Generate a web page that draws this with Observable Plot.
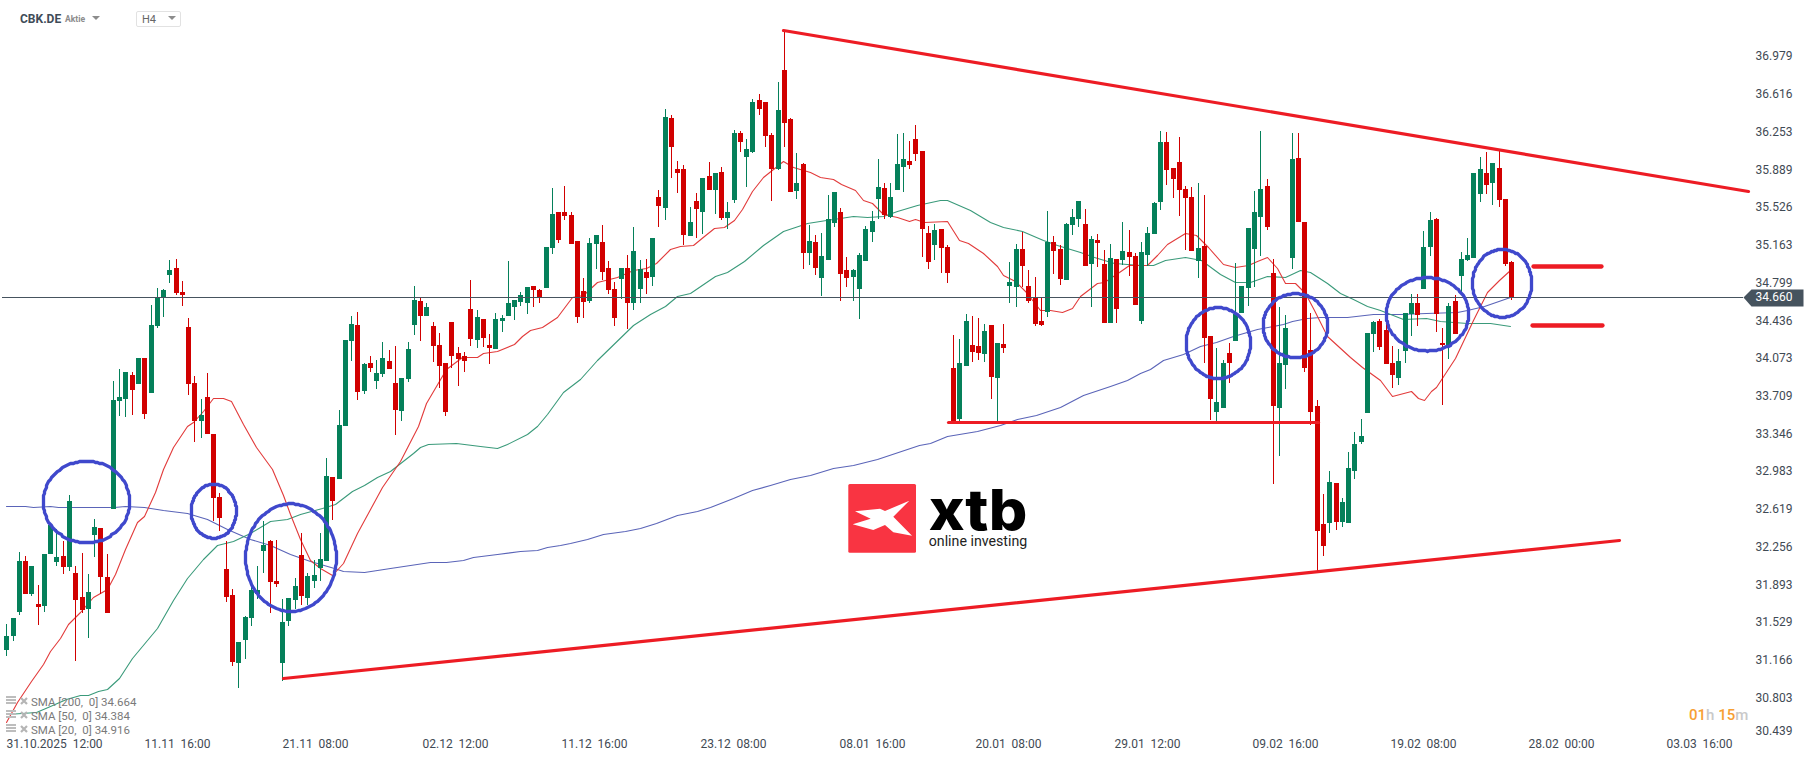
<!DOCTYPE html>
<html><head><meta charset="utf-8">
<script src="https://cdn.jsdelivr.net/npm/d3@7"></script>
<script src="https://cdn.jsdelivr.net/npm/@observablehq/plot@0.6"></script>
<style>
html,body{margin:0;padding:0;background:#fff;width:1815px;height:761px;overflow:hidden}
#wrap{position:relative;width:1815px;height:761px;font-family:Roboto,sans-serif}
#wrap>svg{position:absolute;left:0;top:0}
.o{position:absolute;white-space:pre}
#wrap>svg.o{left:auto;top:auto}
.leg{left:31px;font-size:11.5px;color:#7a7a7a;line-height:14px}
.ic{left:6px;width:10px;height:2px;background:#bdbdbd;box-shadow:0 3px 0 #bdbdbd,0 6px 0 #bdbdbd}
</style></head><body><div id="wrap"></div>
<script>
const open=[
31.24,31.37,31.61,32.10,31.78,31.69,31.67,32.17,32.09,32.15,
32.04,31.99,31.75,31.64,32.35,32.42,31.95,32.61,33.65,33.67,
33.91,33.82,34.07,33.73,34.38,34.66,34.88,34.94,34.71,34.37,
33.83,33.46,33.69,33.33,32.72,32.02,31.77,31.11,31.34,31.55,
31.78,32.20,32.30,31.91,31.11,31.52,31.72,32.16,31.74,31.91,
32.03,32.10,32.92,32.90,33.41,34.24,34.39,33.75,34.02,33.85,
33.92,34.04,33.83,33.56,33.87,34.39,34.62,34.48,34.38,34.20,
34.02,34.42,34.12,34.09,34.55,34.25,34.45,34.20,34.16,34.43,
34.48,34.57,34.61,34.60,34.77,34.73,34.75,35.14,35.49,35.49,
35.46,35.21,34.72,34.62,35.18,35.20,34.94,34.74,34.84,34.94,
34.60,34.74,34.91,34.86,35.63,35.53,36.40,35.90,35.90,35.25,
35.59,35.49,35.84,35.70,35.88,35.43,35.60,36.25,36.02,36.07,
36.57,36.55,36.23,35.90,36.86,36.39,35.69,35.95,35.09,35.20,
34.85,35.02,35.38,35.49,34.92,34.86,34.74,35.01,35.29,35.61,
35.72,35.44,35.70,35.92,35.98,36.20,36.08,35.28,35.17,35.32,
35.15,33.97,33.48,33.99,34.20,34.19,34.11,34.39,33.88,34.21,
34.77,34.76,35.13,34.77,34.66,34.43,34.52,35.20,35.13,34.83,
35.36,35.42,35.37,34.98,35.22,34.98,34.41,35.03,35.02,35.10,
35.06,34.43,35.07,35.27,35.58,36.17,35.91,35.97,35.71,35.63,
35.01,35.16,34.28,33.55,33.59,34.12,34.24,34.51,34.75,35.13,
35.44,35.74,34.90,33.59,34.00,35.04,36.01,35.39,34.15,33.61,
32.46,32.47,32.86,32.48,32.47,32.98,33.26,33.54,34.30,34.43,
34.34,34.02,33.88,34.14,34.50,34.60,34.74,35.15,35.42,34.22,
34.20,34.62,34.87,35.02,35.04,35.66,35.87,35.77,35.91,35.61,35.00];
const close=[
31.37,31.55,32.10,31.78,32.05,31.66,32.17,32.45,32.14,32.04,
32.68,31.72,31.63,31.80,32.43,31.95,31.60,33.66,33.69,33.94,
33.76,34.07,33.53,34.39,34.66,34.73,34.92,34.70,34.68,33.82,
33.46,33.52,33.33,32.71,32.52,31.75,31.12,31.32,31.56,31.82,
31.82,32.26,31.90,31.88,31.51,31.74,31.86,31.76,31.96,31.97,
32.12,32.93,32.68,33.42,34.25,34.40,33.74,34.01,33.97,33.93,
34.07,33.96,33.57,33.88,34.16,34.63,34.48,34.57,34.19,33.99,
33.55,34.09,34.06,34.04,34.26,34.47,34.27,34.17,34.45,34.46,
34.60,34.63,34.68,34.76,34.73,34.66,35.15,35.47,35.22,35.45,
35.18,34.47,34.61,35.19,35.26,34.91,34.73,34.46,34.94,34.60,
35.11,34.93,34.85,35.24,35.55,36.41,36.12,35.87,35.26,35.39,
35.52,35.82,35.70,35.87,35.43,35.49,36.25,36.17,36.10,36.55,
36.49,36.22,35.90,36.48,36.35,35.68,35.77,35.09,35.21,34.94,
35.06,35.42,35.68,34.89,34.85,34.92,35.07,35.32,35.40,35.73,
35.46,35.63,35.95,36.00,35.94,36.05,35.32,35.00,35.31,35.14,
34.90,33.46,34.02,34.43,34.13,34.12,34.33,33.89,34.22,34.17,
34.81,35.13,34.96,34.62,34.40,34.39,35.20,35.11,34.84,35.37,
35.44,35.59,34.96,35.23,35.19,34.41,35.04,34.55,35.11,35.05,
34.59,35.10,35.28,35.57,36.17,35.89,35.81,35.70,35.62,35.11,
35.14,34.27,33.67,33.64,34.02,34.02,34.50,34.77,35.33,35.49,
35.71,35.34,33.61,34.02,34.36,36.00,35.39,33.97,33.55,32.39,
32.25,32.87,32.48,32.67,33.00,33.24,33.31,34.31,34.42,34.18,
34.01,33.91,34.04,34.51,34.60,34.49,35.15,35.41,34.50,34.20,
34.58,34.30,35.03,35.07,35.87,35.90,35.75,35.96,35.60,34.98,34.66];
const high=[
31.49,31.55,32.19,32.15,32.05,31.87,32.17,32.45,32.41,32.30,
32.74,32.05,32.18,31.98,32.51,32.42,32.17,33.85,33.96,33.94,
33.94,34.07,34.07,34.59,34.75,34.74,35.02,35.03,34.82,34.46,
33.90,33.67,33.93,33.33,32.76,32.30,31.83,31.32,31.57,31.86,
32.05,32.49,32.31,32.31,31.73,31.74,31.94,32.37,31.99,32.11,
32.37,33.10,32.92,33.57,34.25,34.48,34.52,34.02,34.09,34.05,
34.23,34.15,34.19,33.88,34.23,34.77,34.65,34.60,34.42,34.31,
34.02,34.42,34.18,34.13,34.83,34.54,34.45,34.30,34.51,34.49,
35.01,34.63,34.71,34.76,34.77,34.74,35.15,35.72,35.49,35.74,
35.49,35.21,34.85,35.24,35.26,35.36,35.01,34.81,34.94,35.07,
35.34,35.02,35.03,35.24,35.70,36.49,36.43,35.98,35.94,35.54,
35.67,35.82,35.97,35.87,35.92,35.58,36.28,36.27,36.20,36.58,
36.63,36.55,36.25,36.75,37.25,36.40,36.06,35.96,35.36,35.26,
35.28,35.65,35.68,35.53,35.05,34.93,35.09,35.35,35.50,36.00,
35.77,35.77,36.24,36.25,36.18,36.33,36.08,35.35,35.37,35.32,
35.17,34.29,34.26,34.50,34.48,34.46,34.40,34.39,34.22,34.40,
35.00,35.18,35.29,34.92,34.86,34.65,35.50,35.25,35.17,35.38,
35.52,35.59,35.52,35.25,35.27,35.12,35.18,35.03,35.39,35.31,
35.09,35.20,35.34,35.58,36.27,36.26,35.91,36.21,35.74,35.73,
35.77,35.65,34.28,34.17,34.05,34.22,34.99,34.77,35.33,35.69,
36.27,35.81,35.03,34.57,34.49,36.25,36.25,35.39,34.51,33.66,
32.75,32.98,32.86,32.71,33.16,33.35,33.48,34.31,34.43,34.45,
34.45,34.19,34.16,34.51,34.69,34.69,35.30,35.49,35.43,34.36,
34.60,34.68,35.10,35.24,35.87,36.02,36.07,35.96,36.09,35.61,35.01];
const low=[
31.18,31.33,31.58,31.78,31.76,31.48,31.61,32.17,32.05,31.98,
32.01,31.13,31.60,31.36,32.14,31.78,31.60,32.61,33.51,33.50,
33.52,33.82,33.48,33.73,34.36,34.47,34.80,34.68,34.58,33.71,
33.26,33.30,33.33,32.49,32.39,31.70,31.08,30.87,31.15,31.47,
31.73,31.99,31.60,31.85,30.94,31.47,31.64,31.68,31.68,31.84,
31.91,32.10,32.50,32.90,33.41,34.04,33.66,33.72,33.94,33.77,
33.89,33.96,33.32,33.46,33.84,34.29,34.24,34.48,34.03,33.78,
33.51,33.97,33.80,33.94,34.19,34.17,34.18,34.01,34.16,34.32,
34.48,34.44,34.58,34.50,34.57,34.60,34.75,35.08,35.19,35.41,
35.18,34.41,34.46,34.60,34.93,34.83,34.69,34.38,34.64,34.35,
34.54,34.60,34.69,34.77,35.34,35.41,35.82,35.67,35.17,35.25,
35.24,35.27,35.70,35.47,35.41,35.32,35.57,36.07,35.73,36.06,
36.43,36.12,35.59,35.89,36.12,35.68,35.61,34.93,34.97,34.88,
34.67,35.02,35.34,34.62,34.76,34.62,34.45,35.01,35.20,35.42,
35.42,35.43,35.70,35.68,35.90,35.98,35.05,34.93,35.02,34.90,
34.80,33.45,33.45,33.99,34.03,34.05,34.03,33.67,33.45,34.12,
34.60,34.57,34.76,34.60,34.38,34.38,34.47,34.89,34.78,34.83,
35.26,35.34,34.96,34.57,34.95,34.41,34.41,34.41,34.97,34.87,
34.59,34.40,34.96,35.27,35.51,35.75,35.62,35.45,35.12,35.11,
34.85,34.02,33.47,33.45,33.59,33.83,34.24,34.51,34.58,34.76,
35.06,35.31,32.85,33.12,33.77,34.93,35.39,33.94,33.42,32.00,
32.15,32.37,32.40,32.43,32.47,32.90,33.24,33.54,34.13,34.15,
34.01,33.78,33.81,34.02,34.28,34.38,34.74,35.06,34.32,33.62,
34.06,34.30,34.70,35.01,35.04,35.58,35.66,35.56,35.54,34.96,34.63];

// moving averages as [candle index, price]
const sma20=[[0,30.54],[1.65,30.73],[4,30.94],[5.9,31.10],[7,31.23],[8.6,31.36],[9.9,31.49],[11.8,31.61],[13.9,31.75],[16,31.83],[17.3,31.98],[18.9,32.22],[20.8,32.48],[21.9,32.54],[23.7,32.77],[25,32.99],[26.6,33.21],[28.8,33.41],[29.8,33.45],[31.4,33.56],[33,33.68],[34.6,33.68],[35.9,33.65],[37.8,33.43],[39.9,33.21],[42.3,32.99],[44.2,32.74],[45.2,32.56],[46.8,32.32],[48.4,32.11],[50,32.03],[51.9,31.97],[53.7,32.08],[55.9,32.37],[59.9,32.82],[62.8,33.07],[65.7,33.41],[67,33.63],[70.2,33.96],[72.6,34.08],[75,34.08],[76.1,34.12],[78.2,34.14],[80.9,34.21],[82.2,34.28],[83.5,34.34],[85.4,34.37],[87.8,34.47],[90.2,34.66],[92,34.68],[94.2,34.81],[97.4,34.86],[100,34.92],[102.1,34.94],[103.7,34.99],[105.8,35.13],[107.4,35.16],[109.6,35.17],[111.2,35.25],[112.8,35.33],[114.4,35.34],[116,35.41],[117.3,35.52],[118.9,35.69],[120.7,35.83],[123.9,35.98],[125.5,35.92],[128.2,35.88],[129.8,35.83],[131.9,35.81],[133.2,35.76],[135.4,35.70],[136.7,35.60],[138,35.57],[139.9,35.47],[142,35.44],[143.9,35.40],[145,35.42],[146.3,35.39],[150,35.40],[152,35.22],[153.4,35.19],[155.8,35.09],[158,34.96],[159,34.88],[160.9,34.82],[162.7,34.71],[164.9,34.54],[166.5,34.54],[168.3,34.52],[169.9,34.56],[171.2,34.67],[173.9,34.80],[175,34.81],[177.4,34.91],[179,34.97],[181.9,34.97],[183.5,35.07],[185.1,35.18],[188,35.28],[189.8,35.26],[191.7,35.15],[194.1,34.98],[196,34.95],[198.1,34.97],[199.4,35.01],[201,35.05],[202.6,34.94],[203.9,34.80],[205.5,34.80],[207.1,34.70],[208.5,34.54],[210.6,34.28],[214.3,34.08],[216.2,33.98],[219.1,33.86],[221,33.70],[224,33.75],[225.2,33.68],[226.1,33.66],[227.3,33.75],[228.1,33.79],[231.1,34.07],[234,34.44],[236.1,34.71],[238,34.83],[239.8,34.92]];
const sma50=[[0.1,30.62],[4.8,30.64],[7,30.70],[9.6,30.76],[11.8,30.80],[13.1,30.80],[14.7,30.84],[16,30.86],[17.9,30.97],[20,31.16],[24,31.45],[26.6,31.72],[28.8,31.94],[31.4,32.12],[33.6,32.26],[36.2,32.30],[38.9,32.37],[42.1,32.49],[44.7,32.51],[46.8,32.56],[50.3,32.62],[52.4,32.66],[55.1,32.78],[57,32.84],[59.1,32.92],[61.2,32.98],[64.9,33.15],[66,33.21],[67.3,33.24],[71.8,33.25],[75.5,33.22],[78.2,33.20],[79.8,33.24],[83,33.33],[84.6,33.41],[86.2,33.53],[88.8,33.74],[91.5,33.87],[94.2,34.05],[100,34.39],[102.7,34.50],[105,34.58],[106.9,34.67],[109,34.70],[113,34.87],[114.9,34.91],[117.6,35.01],[120.7,35.17],[123.9,35.30],[127.7,35.38],[130.8,35.41],[133,35.43],[135.1,35.45],[137.2,35.44],[139.9,35.45],[142,35.50],[145.2,35.56],[148.9,35.60],[150,35.60],[153.7,35.51],[156.9,35.39],[159,35.34],[162,35.30],[165.4,35.22],[167.5,35.17],[171.2,35.10],[173.4,35.05],[176.6,34.99],[180.8,34.97],[182.9,34.97],[184.8,35.02],[188,35.05],[190.6,35.02],[193.6,34.89],[196,34.81],[198.4,34.81],[201,34.87],[203.9,34.86],[206.3,34.92],[207.9,34.91],[210.6,34.80],[212.7,34.70],[214.8,34.64],[217,34.58],[219.1,34.54],[222.8,34.45],[226.5,34.46],[228.7,34.43],[232.9,34.41],[236.6,34.41],[239.9,34.38]];
const sma200=[[0,32.64],[3,32.64],[4.3,32.63],[7,32.64],[8.3,32.63],[17.1,32.63],[18.9,32.64],[21.9,32.63],[25,32.60],[28.8,32.57],[32,32.51],[35.2,32.41],[38.9,32.32],[42.1,32.26],[45.2,32.17],[48.4,32.10],[52.2,32.03],[53.7,32.01],[57,32.00],[61.2,32.03],[67.6,32.09],[70.2,32.09],[72.9,32.11],[74.5,32.14],[78.2,32.17],[81.9,32.20],[84.6,32.21],[86.2,32.24],[88.3,32.26],[89.9,32.28],[92.6,32.32],[95.2,32.36],[98.7,32.39],[101.1,32.42],[103.7,32.47],[106.9,32.55],[110.1,32.59],[112.2,32.63],[115.9,32.71],[118.9,32.79],[121.8,32.84],[125,32.90],[128.2,32.94],[131.9,33.00],[135.1,33.03],[138.8,33.09],[144.1,33.20],[145.5,33.23],[147.3,33.25],[150,33.31],[154.8,33.36],[158.5,33.42],[161.2,33.48],[164.3,33.52],[168.1,33.60],[171.8,33.71],[176,33.80],[178.7,33.86],[180.8,33.93],[182.4,33.96],[184.5,34.05],[187.7,34.11],[190.4,34.19],[193,34.23],[195.7,34.28],[199.4,34.35],[203.7,34.40],[205,34.43],[207.4,34.46],[209.5,34.47],[213.8,34.47],[218,34.50],[222.3,34.50],[226.5,34.51],[231.3,34.52],[232.9,34.54],[235.6,34.58],[239.9,34.66]];

// hand-drawn annotations, in candle index and price
const trendLines=[[[123.8,37.25],[277.8,35.69]],[[44.1,30.97],[257.2,32.31]],[[150.2,33.45],[209.2,33.45]]];
const levelLines=[[[243.5,34.96],[254.3,34.96]],[[243.3,34.39],[254.5,34.39]]];
const circleIndex=[12.71,33.01,45.33,193.22,205.53,226.59,238.5];
const circlePrice=[32.68,32.59,32.14,34.22,34.39,34.50,34.80];
const circleWide=[6.91,3.62,7.26,5.14,5.15,6.59,4.74];
const circleTall=[0.396,0.262,0.521,0.344,0.31,0.356,0.33];

const lastPrice=34.660;
const priceTicks=[36.979,36.616,36.253,35.889,35.526,35.163,34.799,34.436,34.073,33.709,33.346,32.983,32.619,32.256,31.893,31.529,31.166,30.803];
const bottomPriceTick=[30.439];
const dateTicks=[27.3,49.3,71.5,93.8,115.9,138,159.8,181.9,204,226,248,270];
const dateLabels=["11.11  16:00","21.11  08:00","02.12  12:00","11.12  16:00","23.12  08:00","08.01  16:00","20.01  08:00","29.01  12:00","09.02  16:00","19.02  08:00","28.02  00:00","03.03  16:00"].map(s=>s.replace("  ","\u00a0\u00a0"));
const firstDate="31.10.2025\u00a0\u00a012:00";

const UP="#05805a",DOWN="#d10000",INK="#3f4a54",LINE="#ed1c24",RING="#3f48cc";
// the readings above were taken with a slightly coarse ruler; this settles them on the axis labels
const cal=p=>lastPrice+(p-lastPrice)*103.1/103.85;
const candles=open.map((o,i)=>({i,o:cal(o),c:cal(close[i]),h:cal(high[i]),l:cal(low[i]),col:close[i]>=o?UP:DOWN}));
const rings=circleIndex.flatMap((cx,k)=>d3.range(0,121).map(t=>({k,
  x:cx+circleWide[k]*Math.cos(t/120*2*Math.PI),
  y:cal(circlePrice[k]+circleTall[k]*Math.sin(t/120*2*Math.PI))})));
const segs=ls=>ls.flatMap((l,k)=>l.map(([x,y])=>({k,x,y:cal(y)})));
const tag=[[277,lastPrice],[278.3,lastPrice+0.082],[286.6,lastPrice+0.082],[286.6,lastPrice-0.082],[278.3,lastPrice-0.082],[277,lastPrice]];

const chart=Plot.plot({
  width:1815,height:761,marginTop:0,marginRight:0,marginBottom:0,marginLeft:0,
  style:{background:"#fff",fontFamily:"Roboto,sans-serif",fontSize:"12px",overflow:"visible"},
  x:{type:"linear",domain:[-1.005,288.47],range:[0,1815],round:true},
  y:{type:"linear",domain:[30.1949,37.5228],range:[761,0],round:true},
  marks:[
    Plot.line(sma200,{x:d=>d[0],y:d=>cal(d[1]),stroke:"#5a64b8",strokeWidth:1.1}),
    Plot.line(sma50,{x:d=>d[0],y:d=>cal(d[1]),stroke:"#3a9a7a",strokeWidth:1.1}),
    Plot.line(sma20,{x:d=>d[0],y:d=>cal(d[1]),stroke:"#e23b3b",strokeWidth:1.1}),
    Plot.ruleX(candles,{x:"i",y1:"l",y2:"h",stroke:"col",strokeWidth:1}),
    Plot.ruleX(candles,{x:"i",y1:"o",y2:"c",stroke:"col",strokeWidth:5}),
    Plot.ruleY([lastPrice],{x1:-0.69,x2:277,stroke:"#46535e",strokeWidth:1}),
    Plot.line(segs(trendLines),{x:"x",y:"y",z:"k",stroke:LINE,strokeWidth:3.2}),
    Plot.line(segs(levelLines),{x:"x",y:"y",z:"k",stroke:LINE,strokeWidth:4.3,strokeLinecap:"round"}),
    Plot.line(rings,{x:"x",y:"y",z:"k",stroke:RING,strokeWidth:3.3,curve:"linear"}),
    Plot.line(tag,{x:d=>d[0],y:d=>d[1],fill:"#46535e",stroke:"none"}),
    Plot.axisY({anchor:"left",ticks:priceTicks,tickSize:0,tickPadding:0,dx:1792,label:null,fill:INK,fontSize:12,tickFormat:d=>d.toFixed(3)}),
    Plot.axisY({anchor:"left",ticks:bottomPriceTick,tickSize:0,tickPadding:0,dx:1792,dy:-5,label:null,fill:INK,fontSize:12,tickFormat:d=>d.toFixed(3)}),
    Plot.text([lastPrice],{x:[284.8],y:d=>d,text:d=>d.toFixed(3),textAnchor:"end",fill:"#fff",fontSize:12}),
    Plot.axisX({anchor:"bottom",ticks:dateTicks,tickSize:0,tickPadding:0,dy:-22,label:null,fill:INK,fontSize:12,tickFormat:d=>dateLabels[dateTicks.indexOf(d)]}),
    Plot.axisX({anchor:"bottom",ticks:[-0.05],tickSize:0,tickPadding:0,dy:-22,label:null,fill:INK,fontSize:12,textAnchor:"start",tickFormat:()=>firstDate})
  ]
});
const wrap=document.getElementById("wrap");
wrap.appendChild(chart);
const xIcon=t=>`<svg class="o" style="left:20px;top:${t}px" width="8" height="8" viewBox="0 0 8 8"><path d="M1 1L7 7M7 1L1 7" stroke="#b5b5b5" stroke-width="2.2"/></svg>`;
const overlay=`
<div class="o" style="left:20px;top:12px;font-size:12px;font-weight:700;color:#3f4c58;line-height:14px">CBK.DE</div>
<div class="o" style="left:65px;top:14px;font-size:8.6px;font-weight:700;color:#8c8c8c;line-height:11px">Aktie</div>
<div class="o" style="left:92px;top:16px;width:0;height:0;border-left:4px solid transparent;border-right:4px solid transparent;border-top:4px solid #8c8c8c"></div>
<div class="o" style="left:136px;top:11px;width:43px;height:14px;border:1px solid #e2e2e2;border-radius:2px"></div>
<div class="o" style="left:142px;top:13px;font-size:11px;color:#666;line-height:13px">H4</div>
<div class="o" style="left:168px;top:16px;width:0;height:0;border-left:4px solid transparent;border-right:4px solid transparent;border-top:4px solid #8c8c8c"></div>
<div class="o ic" style="top:696px"></div>${xIcon(697)}<div class="o leg" style="top:695px">SMA [200,\u00a0\u00a00] 34.664</div>
<div class="o ic" style="top:710px"></div>${xIcon(711)}<div class="o leg" style="top:709px">SMA [50,\u00a0\u00a00] 34.384</div>
<div class="o ic" style="top:724px"></div>${xIcon(725)}<div class="o leg" style="top:723px">SMA [20,\u00a0\u00a00] 34.916</div>
<div class="o" style="left:1689px;top:707px;font-size:15px;font-weight:500;line-height:16px;color:#c9c9c9"><span style="color:#f7a033">01</span>h <span style="color:#f7a033">15</span>m</div>
<svg class="o" style="left:830px;top:470px" width="220" height="90" viewBox="830 470 220 90">
<rect x="848.3" y="484" width="67.7" height="68.7" rx="1.5" fill="#f93442"/>
<polygon points="855,511.3 880,508.7 885,511 909.3,500.7 893.3,516.7 912,535.7 893.3,532.3 885,525 873.3,530 852.7,524.3 870.7,518.7" fill="#fff"/>
<text x="928.7" y="530" font-family="Inter,Roboto,sans-serif" font-weight="800" font-size="56" fill="#000" textLength="98.6" lengthAdjust="spacingAndGlyphs">xtb</text>
<text x="928.7" y="546" font-family="Roboto,sans-serif" font-size="15" fill="#222" textLength="98.6" lengthAdjust="spacingAndGlyphs">online investing</text>
</svg>`;
wrap.insertAdjacentHTML("beforeend",overlay);
</script></body></html>
